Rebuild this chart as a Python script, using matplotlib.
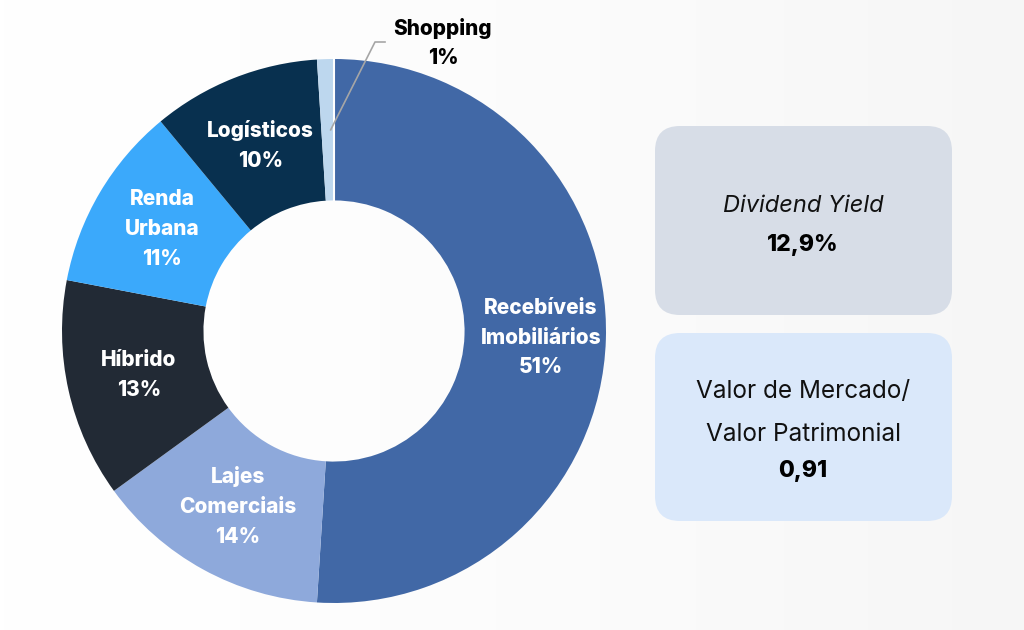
import numpy as np
import matplotlib
matplotlib.use("Agg")
import matplotlib.pyplot as plt
from matplotlib.patches import FancyBboxPatch

# ---- data ----
categories = ["Recebíveis\nImobiliários", "Lajes\nComerciais", "Híbrido", "Renda\nUrbana", "Logísticos", "Shopping"]
shares = [51, 14, 13, 11, 10, 1]
pct_labels = ["51%", "14%", "13%", "11%", "10%", "1%"]
colors = ["#4168A6", "#8EA9DB", "#222A35", "#3BA9FB", "#08304F", "#BDD7EE"]

kpi_titles = ["Dividend Yield", "Valor de Mercado/\nValor Patrimonial"]
kpi_values = ["12,9%", "0,91"]

plt.rcParams['font.family'] = ['Inter', 'DejaVu Sans']

W, H = 1024, 630
fig = plt.figure(figsize=(W / 100, H / 100), dpi=100)
ax = fig.add_axes([0, 0, 1, 1])

# subtle background gradient
grad = np.linspace(0, 1, 256)[None, :]
bg = 1.0 - 0.035 * grad ** 1.5
ax.imshow(np.dstack([bg, bg, bg]), extent=[0, W, 0, H], aspect='auto', zorder=0)

cx, cy = 334, H - 331
R = 272
wedges, _ = ax.pie(shares, colors=colors, startangle=90, counterclock=False,
                   center=(cx, cy), radius=R,
                   wedgeprops=dict(width=R * 0.52, edgecolor='none', linewidth=0),
                   frame=True)
for w in wedges:
    w.set_zorder(2)
# small white gap between Shopping and Recebíveis
ax.plot([cx, cx], [cy + R * 0.48, cy + R + 1], color='white', lw=1.5, zorder=2.5)

ax.set_xlim(0, W)
ax.set_ylim(0, H)
ax.set_aspect('equal')
ax.axis('off')

fw = 'heavy'
# slice labels
for i, w in enumerate(wedges):
    if i == len(wedges) - 1:
        continue
    mid = np.deg2rad((w.theta1 + w.theta2) / 2)
    rr = 207 if i == 0 else 200
    x = cx + rr * np.cos(mid)
    y = cy + rr * np.sin(mid)
    ax.text(x, y, categories[i] + "\n" + pct_labels[i], ha='center', va='center',
            color='white', fontsize=15, fontweight=fw, linespacing=1.62, zorder=5)

# Shopping label with leader line
w = wedges[-1]
mid = np.deg2rad((w.theta1 + w.theta2) / 2)
p0 = (cx + 0.74 * R * np.cos(mid) + 3, cy + 0.74 * R * np.sin(mid))
ax.plot([p0[0], 375, 385], [p0[1], H - 42, H - 42], color='#A6A6A6', lw=1.2, zorder=4)
ax.text(443, H - 43, categories[-1] + "\n" + pct_labels[-1], ha='center', va='center',
        color='black', fontsize=15, fontweight=fw, linespacing=1.62, zorder=5)

# KPI boxes
boxes = [(655, 126, 297, 189, "#D7DDE7"), (655, 333, 297, 188, "#DAE8FA")]
for (bx, by, bw, bh, bc) in boxes:
    p = FancyBboxPatch((bx + 25, H - by - bh + 25), bw - 50, bh - 50,
                       boxstyle="round,pad=25", facecolor=bc, edgecolor='none', zorder=3)
    ax.add_patch(p)

ax.text(803, H - 206, kpi_titles[0], ha='center', va='center', fontsize=17,
        style='italic', color='#111111', zorder=5)
ax.text(803, H - 245, kpi_values[0], ha='center', va='center', fontsize=16.5,
        fontweight=fw, color='black', zorder=5)
ax.text(803, H - 413, kpi_titles[1], ha='center', va='center', fontsize=17.5,
        color='#111111', linespacing=2.1, zorder=5)
ax.text(803, H - 471, kpi_values[1], ha='center', va='center', fontsize=16.5,
        fontweight=fw, color='black', zorder=5)

fig.savefig("out.png", dpi=100)
